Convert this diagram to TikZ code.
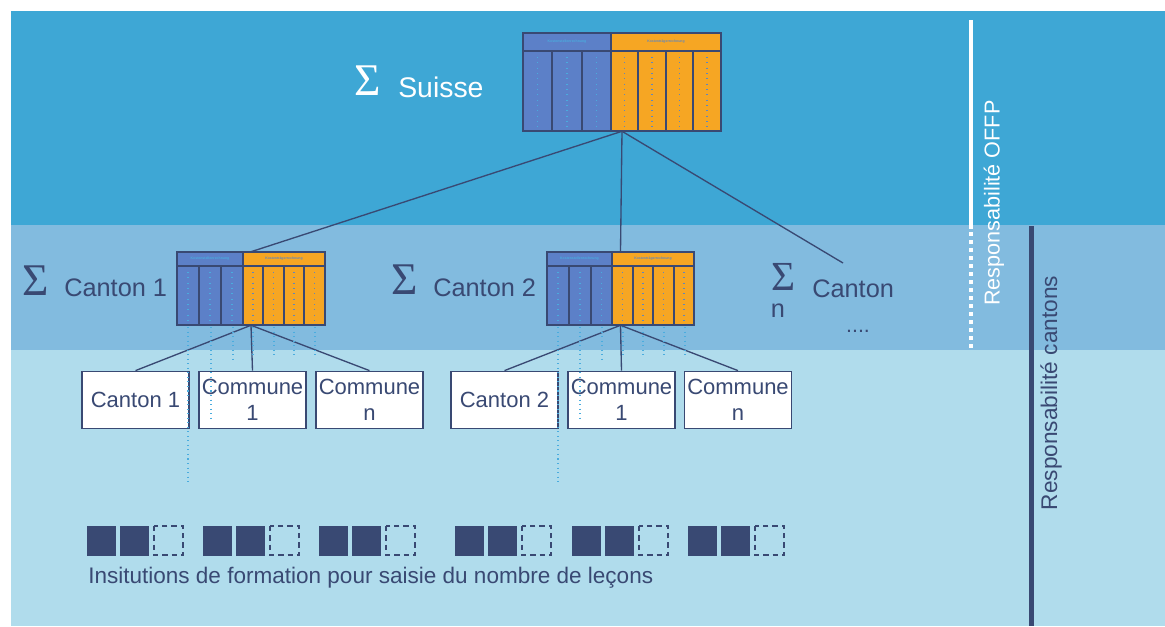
\documentclass[tikz,border=0pt]{standalone}
\usepackage{fontspec}
\setmainfont{Liberation Sans}
\newfontfamily\sigfont{Liberation Serif}
\usetikzlibrary{fit,calc}
\definecolor{bandA}{RGB}{62,167,213}
\definecolor{bandB}{RGB}{130,187,223}
\definecolor{bandC}{RGB}{176,220,236}
\definecolor{navy}{RGB}{57,73,115}
\definecolor{tblue}{RGB}{92,128,200}
\definecolor{torange}{RGB}{246,166,35}
\definecolor{ltxt}{RGB}{74,172,222}
\definecolor{otxt}{RGB}{95,135,190}
\tikzset{
  tline/.style={draw=navy,line width=1.5pt},
  coltext/.style={line width=1.2pt,dash pattern=on 0.8pt off 3.2pt},
  overflow/.style={draw=ltxt,line width=1.2pt,dash pattern=on 0.8pt off 2.6pt},
  conn/.style={draw=navy,line width=1pt},
  box/.style={draw=navy,line width=1.1pt,fill=white,text=navy,minimum width=80pt,minimum height=43pt,inner sep=0pt,align=center,font=\fontsize{16.5}{19.5}\selectfont},
  sig/.style={font=\sigfont\fontsize{34}{34}\selectfont,inner sep=0pt},
  lbl/.style={font=\fontsize{19}{23}\selectfont,text=navy,inner sep=0pt,anchor=base west},
  hdr/.style={font=\fontsize{2.6}{3}\selectfont\bfseries,text=ltxt,inner sep=0pt},
  sqf/.style={fill=navy,draw=navy,line width=0.6pt},
  sqd/.style={draw=navy,line width=0.9pt,dash pattern=on 4pt off 3pt},
}
% #1 name, #2 x0, #3 y0, #4 x1, #5 y1, #6 header bottom, #7 split x, #8 columns left/right/colour
\newcommand\kostab[8]{%
  \fill[tblue] (#2,#3) rectangle (#7,#5);
  \fill[torange] (#7,#3) rectangle (#4,#5);
  \foreach \a/\b/\c in {#8} {
    \draw[tline] (\a,#6) -- (\a,#5);
    \draw[coltext,\c] ({(\a+\b)/2},#6+6) -- ({(\a+\b)/2},#5-4);
  }
  \draw[tline] (#2,#6) -- (#4,#6);
  \draw[tline] (#7,#3) -- (#7,#5);
  \draw[tline] (#2,#3) rectangle (#4,#5);
  \node[hdr] at ($(#2,#3)!0.5!(#7,#6)$) {Kostenstellenrechnung};
  \node[hdr,text=otxt] at ($(#7,#3)!0.5!(#4,#6)$) {Kostenträgerrechnung};
  \node[fit={(#2,#3) (#4,#5)},inner sep=0pt] (#1) {};
}
\begin{document}
\begin{tikzpicture}[x=0.75pt,y=-0.75pt]
\useasboundingbox (0,0) rectangle (1165,626);
\fill[white] (0,0) rectangle (1165,626);
% bands
\fill[bandA] (11,11) rectangle (1165,225);
\fill[bandB] (11,225) rectangle (1165,350);
\fill[bandC] (11,350) rectangle (1165,626);

% responsibility lines
\draw[white,line width=3pt] (971,20) -- (971,229);
\draw[white,line width=3pt,dash pattern=on 3pt off 3pt] (971,232) -- (971,350);
\draw[navy,line width=3.75pt] (1031,226) -- (1031,626);
\node[rotate=90,text=white,font=\fontsize{16.2}{19}\selectfont,inner sep=0pt] (rofp) at (994,203) {Responsabilité OFFP};
\node[rotate=90,text=navy,font=\fontsize{17}{20}\selectfont,inner sep=0pt] (rcan) at (1051,393) {Responsabilité cantons};

% tables
\kostab{suisse}{523}{33}{721}{131}{51}{611}{523/552/ltxt,552/582/ltxt,582/611/ltxt,611/638/otxt,638/666/otxt,666/693/otxt,693/721/otxt}
\kostab{ct1}{177}{252}{325}{325}{266}{243}{177/199/ltxt,199/221/ltxt,221/243/ltxt,243/263/otxt,263/284/otxt,284/304/otxt,304/325/otxt}
\kostab{ct2}{547}{252}{694}{325}{266}{612}{547/569/ltxt,569/591/ltxt,591/612/ltxt,612/633/otxt,633/653/otxt,653/674/otxt,674/694/otxt}

% labels
\node[sig,text=white] (sigS) at (368,81) {Σ};
\node[lbl,text=white,font=\fontsize{21.3}{25}\selectfont] (lS) at (398,97) {Suisse};
\node[sig,text=navy] (sig1) at (36,281) {Σ};
\node[lbl] (l1) at (64,296) {Canton 1};
\node[sig,text=navy] (sig2) at (405,280) {Σ};
\node[lbl] (l2) at (433,296) {Canton 2};
\node[sig,text=navy,font=\sigfont\fontsize{31}{31}\selectfont] (sign) at (784,277) {Σ};
\node[text=navy,font=\fontsize{19}{23}\selectfont,inner sep=0pt] (nn) at (778,311) {n};
\node[lbl] (ln) at (812,297) {Canton};
\node[text=navy,font=\fontsize{16}{19}\selectfont,inner sep=0pt,anchor=base] (dots) at (858,332) {....};

% connectors from Suisse
\coordinate (cn) at (843,263);
\draw[conn] (suisse.south) -- (ct1.north);
\draw[conn] (suisse.south) -- (ct2.north);
\draw[conn] (suisse.south) -- (cn);

% boxes
\node[box] (b1) at (135.5,400) {Canton 1};
\node[box] (b2) at (252.5,400) {Commune\\1};
\node[box] (b3) at (369.5,400) {Commune\\n};
\node[box] (b4) at (504.5,400) {Canton 2};
\node[box] (b5) at (621.5,400) {Commune\\1};
\node[box] (b6) at (738,400) {Commune\\n};
\foreach \t in {b1,b2,b3} \draw[conn] (ct1.south) -- (\t.north);
\foreach \t in {b4,b5,b6} \draw[conn] (ct2.south) -- (\t.north);

% overflowing column text
\foreach \x/\e in {188/485,211/420,233/360,253/358,274/358,294/358,315/358,558/485,580/420,602/360,623/358,643/358,664/358,685/358}
  \draw[overflow] (\x,327) -- (\x,\e);

% training institutions
\foreach \g in {87,203,319,455,572,688} {
  \fill[sqf] (\g,526) rectangle ++(28,29);
  \fill[sqf] (\g+33,526) rectangle ++(28,29);
  \draw[sqd] (\g+67,526) rectangle ++(29,29);
}
\node[lbl,font=\fontsize{16.9}{20}\selectfont] (inst) at (88,583) {Insitutions de formation pour saisie du nombre de leçons};
\end{tikzpicture}
\end{document}
